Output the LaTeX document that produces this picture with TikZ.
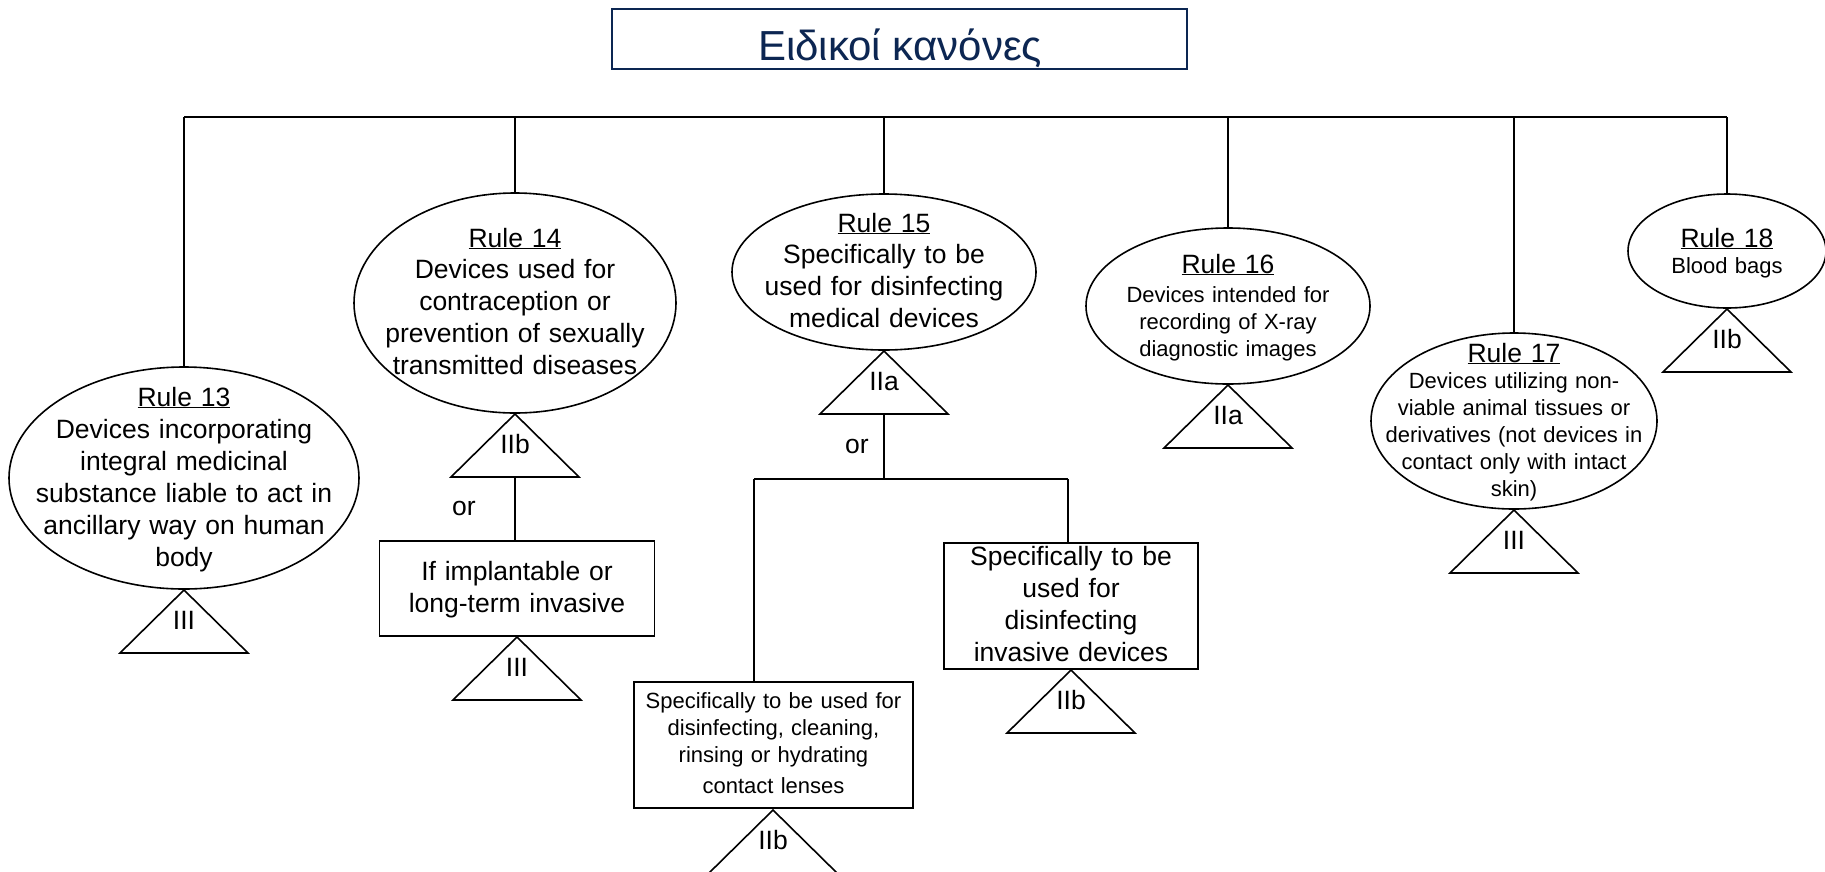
\documentclass[tikz,border=0pt]{standalone}
\usepackage{fontspec}
\setmainfont{Liberation Sans}
\usetikzlibrary{shapes.geometric}
\definecolor{navy}{RGB}{12,38,82}
\newcommand\clstri[4]{%
  \coordinate (#1) at (#2,#3);
  \draw[line, line join=miter] (#1) -- ++(64,63) -- ++(-128,0) -- cycle;
  \node[big] (#1l) at (#2,{#3+39}) {#4};
  \coordinate (#1b) at (#2,{#3+63});
}
\begin{document}
\begin{tikzpicture}[x=1pt,y=-1pt,
  line/.style={line width=1.6pt, draw=black},
  ell/.style={ellipse, draw, line width=1.6pt, inner sep=0pt, outer sep=0pt},
  boxn/.style={draw, line width=1.6pt, inner sep=0pt, outer sep=0pt},
  big/.style={font=\fontsize{26.5}{32}\selectfont, align=center, text width=420pt, anchor=base, inner sep=0pt},
  small/.style={font=\fontsize{22}{27}\selectfont, align=center, text width=420pt, anchor=base, inner sep=0pt},
]
\useasboundingbox (0,0) rectangle (1825,871);
\fill[white] (0,0) rectangle (1825,871);

% title
\node[draw=navy, line width=1.6pt, minimum width=575, minimum height=60, inner sep=0pt] (tbox) at (899.5,39) {};
\node[font=\fontsize{42}{48}\selectfont, text=navy, anchor=base, inner sep=0pt] (title) at (900,60) {Ειδικοί κανόνες};

% ellipses
\node[ell, minimum width=350, minimum height=222] (r13) at (184,478) {};
\node[ell, minimum width=322, minimum height=220] (r14) at (515,303) {};
\node[ell, minimum width=304, minimum height=156] (r15) at (884,272) {};
\node[ell, minimum width=284, minimum height=156] (r16) at (1228,306) {};
\node[ell, minimum width=286, minimum height=176] (r17) at (1514,421) {};
\node[ell, minimum width=198, minimum height=114] (r18) at (1727,251) {};

% ellipse texts
\node[big] (r13t) at (184,406) {\underline{Rule 13}};
\node[big] (r13b) at (184,438) {Devices incorporating\\integral medicinal\\substance liable to act in\\ancillary way on human\\body};
\node[big] (r14t) at (515,247) {\underline{Rule 14}};
\node[big] (r14b) at (515,278) {Devices used for\\contraception or\\prevention of sexually\\transmitted diseases};
\node[big] (r15t) at (884,232) {\underline{Rule 15}};
\node[big] (r15b) at (884,263) {Specifically to be\\used for disinfecting\\medical devices};
\node[big] (r16t) at (1228,273) {\underline{Rule 16}};
\node[small] (r16b) at (1228,302) {Devices intended for\\recording of X-ray\\diagnostic images};
\node[big] (r17t) at (1514,362) {\underline{Rule 17}};
\node[small] (r17b) at (1514,388) {Devices utilizing non-\\viable animal tissues or\\derivatives (not devices in\\contact only with intact\\skin)};
\node[big] (r18t) at (1727,247) {\underline{Rule 18}};
\node[small] (r18b) at (1727,273) {Blood bags};

% boxes
\node[boxn, minimum width=275, minimum height=95] (bimp) at (517,588.5) {};
\node[big] (bimpt) at (517,580) {If implantable or\\long-term invasive};
\node[boxn, minimum width=254, minimum height=126] (br) at (1071,606) {};
\node[big] (brt) at (1071,565) {Specifically to be\\used for\\disinfecting\\invasive devices};
\node[boxn, minimum width=279, minimum height=126] (bl) at (773.5,745) {};
\node[small] (blt) at (773.5,708) {Specifically to be used for\\disinfecting, cleaning,\\rinsing or hydrating\\[4pt]contact lenses};

% triangles
\clstri{ta13}{184}{590}{III}
\clstri{ta14}{515}{414}{IIb}
\clstri{tb14}{517}{637}{III}
\clstri{ta15}{884}{351}{IIa}
\clstri{tl15}{773}{810}{IIb}
\clstri{tr15}{1071}{670}{IIb}
\clstri{ta16}{1228}{385}{IIa}
\clstri{ta17}{1514}{510}{III}
\clstri{ta18}{1727}{309}{IIb}

% bus
\coordinate (b13) at (184,117);
\coordinate (b14) at (515,117);
\coordinate (b15) at (884,117);
\coordinate (b16) at (1228,117);
\coordinate (b17) at (1514,117);
\coordinate (b18) at (1727,117);
\draw[line] (b13) -- (b18);
\draw[line] (b13) -- (r13.north);
\draw[line] (b14) -- (r14.north);
\draw[line] (b15) -- (r15.north);
\draw[line] (b16) -- (r16.north);
\draw[line] (b17) -- (r17.north);
\draw[line] (b18) -- (r18.north);

% rule 14 branch
\draw[line] (ta14b) -- (ta14b |- bimp.north);
\node[big] (or14) at (464,515) {or};

% rule 15 branch
\coordinate (j15) at (884,479);
\coordinate (jl) at (754,479);
\coordinate (jr) at (1068,479);
\draw[line] (ta15b) -- (j15);
\draw[line] (jl) -- (jr);
\draw[line] (jl) -- (jl |- bl.north);
\draw[line] (jr) -- (jr |- br.north);
\node[big] (or15) at (857,453) {or};
\end{tikzpicture}
\end{document}
